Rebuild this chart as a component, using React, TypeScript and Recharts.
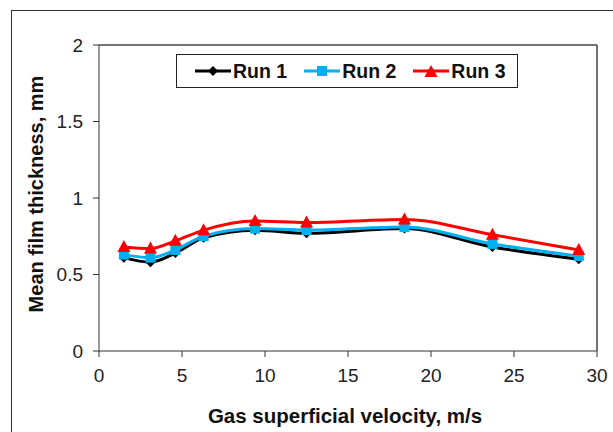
import { LineChart, Line, XAxis, YAxis, ReferenceLine } from "recharts"

// gas superficial velocity, m/s
const velocity = [1.5, 3.1, 4.6, 6.3, 9.4, 12.5, 18.4, 23.7, 28.9]

// mean film thickness, mm
const run1 = [0.61, 0.58, 0.64, 0.74, 0.79, 0.77, 0.8, 0.68, 0.6]
const run2 = [0.63, 0.61, 0.66, 0.75, 0.8, 0.79, 0.81, 0.7, 0.62]
const run3 = [0.68, 0.67, 0.72, 0.79, 0.85, 0.84, 0.86, 0.76, 0.66]

const xTicks = [0, 5, 10, 15, 20, 25, 30]
const yTicks = [0, 0.5, 1, 1.5, 2]

const data = velocity.map((v, i) => ({ v, run1: run1[i], run2: run2[i], run3: run3[i] }))

const FONT = "'Liberation Sans', Arial, sans-serif"

const Diamond = (props: any) => {
  const { cx, cy } = props
  if (cx == null || cy == null) return null
  return <path d={`M${cx},${cy - 5} L${cx + 5},${cy} L${cx},${cy + 5} L${cx - 5},${cy} Z`} fill="#000" />
}

const Square = (props: any) => {
  const { cx, cy } = props
  if (cx == null || cy == null) return null
  return <rect x={cx - 5} y={cy - 5} width={10} height={10} fill="#00b0f0" />
}

const Triangle = (props: any) => {
  const { cx, cy } = props
  if (cx == null || cy == null) return null
  return <path d={`M${cx},${cy - 7} L${cx + 6.5},${cy + 5} L${cx - 6.5},${cy + 5} Z`} fill="#ff0000" />
}

const legendItems = [
  { name: "Run 1", color: "#000", marker: "diamond" },
  { name: "Run 2", color: "#00b0f0", marker: "square" },
  { name: "Run 3", color: "#ff0000", marker: "triangle" },
]

const LegendBox = () => (
  <div
    style={{
      position: "absolute",
      left: 176,
      top: 54,
      border: "1.5px solid #222",
      width: 342,
      height: 34,
      display: "flex",
      alignItems: "center",
      paddingLeft: 18,
      boxSizing: "border-box",
      background: "#fff",
      whiteSpace: "nowrap",
    }}
  >
    {legendItems.map((it) => (
      <div key={it.name} style={{ display: "flex", alignItems: "center", marginRight: 17 }}>
        <svg width={36} height={16}>
          <line x1={0} y1={8} x2={36} y2={8} stroke={it.color} strokeWidth={3} />
          {it.marker === "diamond" && <Diamond cx={18} cy={8} />}
          {it.marker === "square" && <Square cx={18} cy={8} />}
          {it.marker === "triangle" && <Triangle cx={18} cy={9} />}
        </svg>
        <span style={{ fontFamily: FONT, fontWeight: "bold", fontSize: 19.5, color: "#111", marginLeft: 2 }}>
          {it.name}
        </span>
      </div>
    ))}
  </div>
)

export default function App() {
  return (
    <div style={{ position: "absolute", left: 0, top: 0, width: 613, height: 432, overflow: "hidden", background: "#fff" }}>
      <div
        style={{
          position: "absolute",
          left: 11,
          top: 10,
          width: 640,
          height: 460,
          border: "1.5px solid #333",
        }}
      />
      <LineChart
        width={613}
        height={432}
        data={data}
        margin={{ top: 45, right: 16, bottom: 0, left: 0 }}
        style={{ position: "absolute", left: 0, top: 0 }}
      >
        <XAxis
          dataKey="v"
          type="number"
          domain={[0, 30]}
          ticks={xTicks}
          height={81}
          tickSize={6}
          tickMargin={12}
          stroke="#333"
          tick={{ fill: "#222", fontSize: 19, fontFamily: FONT }}
          label={{
            content: (p: any) => {
              const vb = p.viewBox
              return (
                <text
                  x={vb.x + vb.width / 2 - 3}
                  y={423}
                  textAnchor="middle"
                  fontFamily={FONT}
                  fontWeight="bold"
                  fontSize={20.5}
                  fill="#111"
                >
                  Gas superficial velocity, m/s
                </text>
              )
            },
          }}
        />
        <YAxis
          type="number"
          domain={[0, 2]}
          ticks={yTicks}
          width={99}
          tickSize={6}
          tickMargin={10}
          stroke="#333"
          tick={{ fill: "#222", fontSize: 19, fontFamily: FONT }}
          label={{
            content: (p: any) => {
              const vb = p.viewBox
              const cy = vb.y + vb.height / 2 - 4
              return (
                <text
                  x={43}
                  y={cy}
                  transform={`rotate(-90 43 ${cy})`}
                  textAnchor="middle"
                  fontFamily={FONT}
                  fontWeight="bold"
                  fontSize={20}
                  fill="#111"
                >
                  Mean film thickness, mm
                </text>
              )
            },
          }}
        />
        <ReferenceLine y={2} stroke="#444" strokeWidth={1.5} />
        <ReferenceLine x={30} stroke="#444" strokeWidth={1.5} />
        <Line
          type="monotone"
          dataKey="run1"
          name="Run 1"
          stroke="#000"
          strokeWidth={3}
          dot={<Diamond />}
          isAnimationActive={false}
        />
        <Line
          type="monotone"
          dataKey="run2"
          name="Run 2"
          stroke="#00b0f0"
          strokeWidth={3}
          dot={<Square />}
          isAnimationActive={false}
        />
        <Line
          type="monotone"
          dataKey="run3"
          name="Run 3"
          stroke="#ff0000"
          strokeWidth={3}
          dot={<Triangle />}
          isAnimationActive={false}
        />
      </LineChart>
      <LegendBox />
    </div>
  )
}
